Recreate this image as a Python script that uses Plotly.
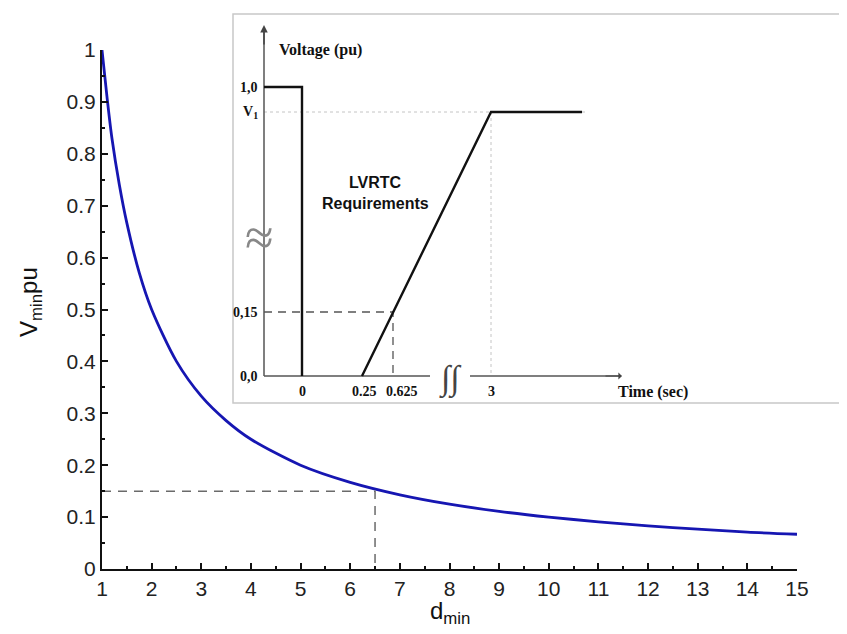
import plotly.graph_objects as go

# page body has an 8px margin: figure is shrunk and shifted so that it fills the 847x634 window
OFF = 8
W, H = 847 - OFF, 634 - OFF

# ---------------- main chart data ----------------
d_min = [1.0, 1.1, 1.2, 1.35, 1.5, 1.75, 2.0, 2.5, 3.0, 3.5, 4.0, 5.0, 6.0, 7.0,
         8.0, 9.0, 10.0, 11.0, 12.0, 13.0, 14.0, 15.0]
v_min = [1.0, 0.91, 0.83, 0.74, 0.667, 0.571, 0.50, 0.40, 0.333, 0.286, 0.25,
         0.20, 0.167, 0.143, 0.125, 0.111, 0.10, 0.091, 0.083, 0.077, 0.071, 0.067]
d_threshold = 6.5
v_threshold = 0.15

x_ticks = list(range(1, 16))
y_ticks = [0, 0.1, 0.2, 0.3, 0.4, 0.5, 0.6, 0.7, 0.8, 0.9, 1.0]
y_tick_text = ["0", "0.1", "0.2", "0.3", "0.4", "0.5", "0.6", "0.7", "0.8", "0.9", "1"]

# ---------------- inset (schematic LVRT curve) ----------------
# schematic positions (inset units), labels as printed
inset_t_pos = [38, 98, 129, 227]
inset_t_labels = ["0", "0.25", "0.625", "3"]
inset_v_pos = [0, 64, 264, 289]
inset_v_labels = ["0,0", "0,15", "V<sub>1</sub>", "1,0"]
pre_fault_x = [0, 38, 38]
pre_fault_y = [289, 289, 0]
ramp_x = [98, 227, 318]
ramp_y = [0, 264, 264]


def px(x):
    return (x - OFF) / W


def py(y):
    return 1 - (y - OFF) / H


FONT = "Liberation Sans, Arial, sans-serif"
SERIF = "Liberation Serif, Times New Roman, serif"

fig = go.Figure()

# main curve
fig.add_trace(go.Scatter(x=d_min, y=v_min, mode="lines",
                         line=dict(color="#1616b2", width=2.8, shape="spline", smoothing=0.8),
                         xaxis="x", yaxis="y", showlegend=False, hoverinfo="skip", cliponaxis=False))
# threshold dashed
fig.add_trace(go.Scatter(x=[d_min[0], d_threshold, d_threshold], y=[v_threshold, v_threshold, 0],
                         mode="lines", line=dict(color="#6a6a6a", width=1.5, dash="9px,7px"),
                         xaxis="x", yaxis="y", showlegend=False, hoverinfo="skip"))

# inset traces
ax2 = dict(xaxis="x2", yaxis="y2", showlegend=False, hoverinfo="skip", mode="lines")
# dotted guides
fig.add_trace(go.Scatter(x=[0, 323, None, inset_t_pos[3], inset_t_pos[3]],
                         y=[inset_v_pos[2], inset_v_pos[2], None, inset_v_pos[2], 0],
                         line=dict(color="#c4c4c4", width=1, dash="dot"), **ax2))
# dashed 0.15 guide
fig.add_trace(go.Scatter(x=[0, inset_t_pos[2], inset_t_pos[2]],
                         y=[inset_v_pos[1], inset_v_pos[1], 0],
                         line=dict(color="#555555", width=1.3, dash="8px,6px"), **ax2))
# axes of the inset
fig.add_trace(go.Scatter(x=[0, 0, None, 0, 166, None, 206, 356],
                         y=[0, 345, None, 0, 0, None, 0, 0],
                         line=dict(color="#555555", width=1.5), **ax2))
# voltage curves
fig.add_trace(go.Scatter(x=pre_fault_x, y=pre_fault_y,
                         line=dict(color="#111111", width=2.4), **ax2))
fig.add_trace(go.Scatter(x=ramp_x, y=ramp_y,
                         line=dict(color="#111111", width=2.4), **ax2))

annotations = []
# inset tick labels
for p, t in zip(inset_t_pos, inset_t_labels):
    shift = {"0.25": 2, "0.625": 9}.get(t, 0)
    annotations.append(dict(x=p + shift, y=-15, xref="x2", yref="y2", text="<b>" + t + "</b>",
                            showarrow=False, font=dict(family=SERIF, size=14, color="#111"),
                            xanchor="center", yanchor="middle"))
for p, t in zip(inset_v_pos, inset_v_labels):
    annotations.append(dict(x=-4, y=p, xref="x2", yref="y2", text="<b>" + t + "</b>", showarrow=False,
                            font=dict(family=SERIF, size=14, color="#111"), xanchor="right",
                            yanchor="middle"))
annotations += [
    dict(x=13, y=326, xref="x2", yref="y2", text="<b>Voltage (pu)</b>", showarrow=False,
         font=dict(family=SERIF, size=16, color="#111"), xanchor="left", yanchor="middle"),
    dict(x=389, y=-16, xref="x2", yref="y2", text="<b>Time (sec)</b>", showarrow=False,
         font=dict(family=SERIF, size=16, color="#111"), xanchor="center", yanchor="middle"),
    dict(x=111, y=194, xref="x2", yref="y2", text="<b>LVRTC</b>", showarrow=False,
         font=dict(family=FONT, size=16, color="#111"), xanchor="center", yanchor="middle"),
    dict(x=111, y=173, xref="x2", yref="y2", text="<b>Requirements</b>", showarrow=False,
         font=dict(family=FONT, size=16, color="#111"), xanchor="center", yanchor="middle"),
    # squiggle breaks
    dict(x=186, y=-3, xref="x2", yref="y2", text="<i>∫∫</i>", showarrow=False,
         font=dict(family=SERIF, size=34, color="#444"), xanchor="center", yanchor="middle"),
    dict(x=-5, y=139, xref="x2", yref="y2", text="≈", showarrow=False,
         font=dict(family="Liberation Serif", size=52, color="#888"), xanchor="center", yanchor="middle"),
    # arrow heads
    dict(x=0, y=351, ax=0, ay=330, xref="x2", yref="y2", axref="x2", ayref="y2", text="",
         showarrow=True, arrowhead=2, arrowsize=1, arrowwidth=1.5, arrowcolor="#444"),
    dict(x=358, y=0, ax=340, ay=0, xref="x2", yref="y2", axref="x2", ayref="y2", text="",
         showarrow=True, arrowhead=1, arrowsize=1, arrowwidth=1.2, arrowcolor="#444"),
    # main axis titles
    dict(x=px(30), y=py(302), xref="paper", yref="paper", text="V<sub>min</sub>pu", showarrow=False,
         textangle=-90, font=dict(family=FONT, size=24, color="#111"), xanchor="center", yanchor="middle"),
    dict(x=px(450), y=py(612), xref="paper", yref="paper", text="d<sub>min</sub>", showarrow=False,
         font=dict(family=FONT, size=24, color="#111"), xanchor="center", yanchor="middle"),
]

shapes = [
    dict(type="rect", xref="paper", yref="paper", x0=px(233), x1=px(880), y0=py(403), y1=py(14),
         line=dict(color="#c8c8c8", width=1.5), fillcolor="white", layer="below"),
]

fig.update_layout(
    width=W, height=H,
    margin=dict(l=0, r=0, t=0, b=0, autoexpand=False),
    paper_bgcolor="white", plot_bgcolor="rgba(0,0,0,0)",
    font=dict(family=FONT, color="#111"),
    showlegend=False,
    annotations=annotations,
    shapes=shapes,
    xaxis=dict(domain=[px(102), px(797)], range=[1, 15], anchor="y", automargin=False,
               tickvals=x_ticks, ticktext=[str(v) for v in x_ticks],
               showline=True, linecolor="#111", linewidth=2, mirror=False,
               ticks="inside", ticklen=6, tickwidth=2, tickcolor="#111",
               minor=dict(dtick=0.5, tick0=1, ticks="inside", ticklen=3, tickwidth=1.5, tickcolor="#111"),
               showgrid=False, zeroline=False,
               tickfont=dict(family=FONT, size=21, color="#222")),
    yaxis=dict(domain=[py(569), py(50)], range=[0, 1], anchor="x", automargin=False,
               tickvals=y_ticks, ticktext=y_tick_text,
               showline=True, linecolor="#111", linewidth=2,
               ticks="inside", ticklen=6, tickwidth=2, tickcolor="#111",
               minor=dict(dtick=0.05, tick0=0, ticks="inside", ticklen=3, tickwidth=1.5, tickcolor="#111"),
               showgrid=False, zeroline=False,
               tickfont=dict(family=FONT, size=21, color="#222")),
    xaxis2=dict(domain=[px(233), 1.0], range=[-31, 583], anchor="y2", visible=False, automargin=False),
    yaxis2=dict(domain=[py(403), py(14)], range=[-27, 362], anchor="x2", visible=False, automargin=False),
)

fig.write_html("out.html")
